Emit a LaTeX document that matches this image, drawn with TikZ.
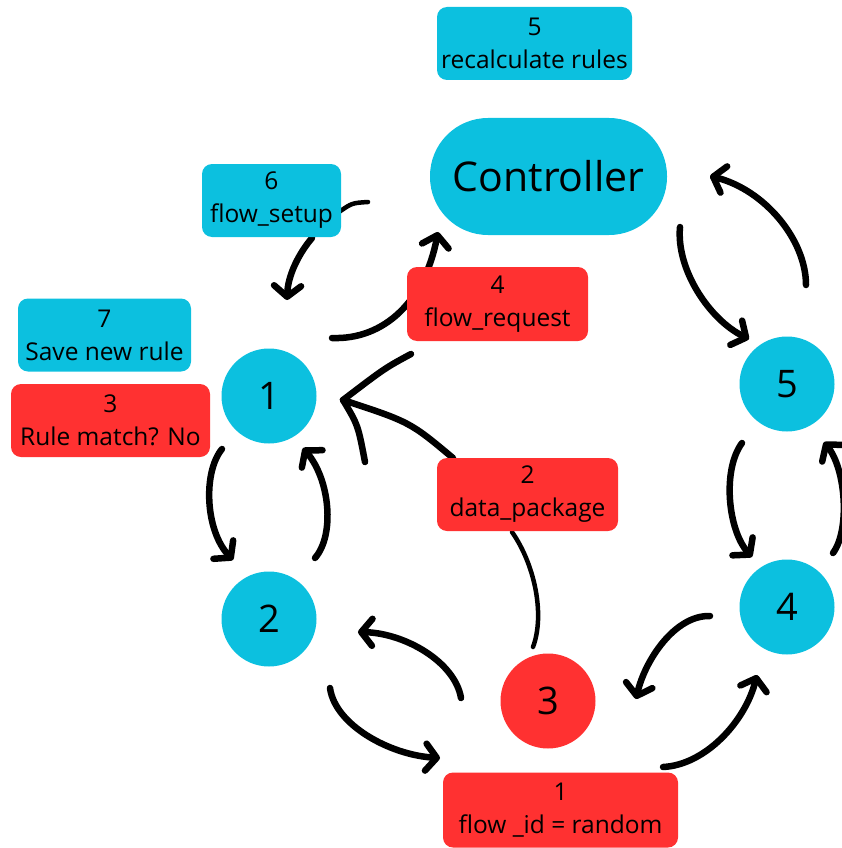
\documentclass[tikz,border=0pt]{standalone}
\usepackage{fontspec}
\setmainfont{Open Sans}
\usetikzlibrary{arrows.meta}
\definecolor{skyfill}{HTML}{0CC0DF}
\definecolor{redfill}{HTML}{FF3131}
\tikzset{
  box/.style={rounded corners=10pt, inner sep=0pt, align=center,
    font=\fontsize{24.5}{33}\selectfont},
  bluebox/.style={box, fill=skyfill},
  redbox/.style={box, fill=redfill},
  stepcircle/.style={circle, minimum size=95pt, inner sep=0pt,
    font=\fontsize{38}{40}\selectfont},
  flowarrow/.style={line width=6.5pt, line cap=round, line join=round,
    -{Straight Barb[length=11pt,width=27pt,round]}},
  flowline/.style={line width=6.5pt, line cap=round, line join=round},
  thinline/.style={line width=4.5pt, line cap=round},
}
\begin{document}
\begin{tikzpicture}[x=1pt,y=-1pt]
\useasboundingbox (0,0) rectangle (841,848);

% free ends of the connectors
\coordinate (s6)  at (368,202);
\coordinate (s6b) at (339,212);
\coordinate (a2s) at (312,238);  \coordinate (a2e) at (287,300);
\coordinate (a3s) at (332,338);  \coordinate (a3e) at (438,232);
\coordinate (tip) at (343,400);
\coordinate (bu)  at (411,354);  \coordinate (bl)  at (365,462);
\coordinate (bd)  at (453,458);
\coordinate (a5s) at (222,449);  \coordinate (a5e) at (233,560);
\coordinate (a6s) at (315,558);  \coordinate (a6e) at (303,448);
\coordinate (l7s) at (512,532);  \coordinate (l7e) at (533,647);
\coordinate (a8s) at (461,698);  \coordinate (a8e) at (358,632);
\coordinate (a9s) at (330,688);  \coordinate (a9e) at (440,758);
\coordinate (a10s) at (710,616); \coordinate (a10e) at (636,699);
\coordinate (a11s) at (663,767); \coordinate (a11e) at (757,675);
\coordinate (a12s) at (742,443); \coordinate (a12e) at (752,557);
\coordinate (a13s) at (833,553); \coordinate (a13e) at (824,442);
\coordinate (a14s) at (680,227); \coordinate (a14e) at (749,339);
\coordinate (a15s) at (806,285); \coordinate (a15e) at (710,176);

% connectors (drawn first so the boxes sit on top)
\draw[thinline] (s6) .. controls (352,203) .. (s6b);
\draw[flowarrow] (a2s) .. controls (300,252) and (288,274) .. (a2e);
\draw[flowarrow] (a3s) .. controls (385,340) and (425,300) .. (a3e);
\draw[flowline] (bu) .. controls (385,368) .. (tip);
\draw[flowline] (bd) .. controls (410,422) .. (tip);
\draw[flowline] (tip) .. controls (358,425) .. (bl);
\draw[flowarrow] (a5s) .. controls (203,472) and (205,530) .. (a5e);
\draw[flowarrow] (a6s) .. controls (335,535) and (330,480) .. (a6e);
\draw[thinline] (l7s) .. controls (535,565) and (545,615) .. (l7e);
\draw[flowarrow] (a8s) .. controls (455,662) and (405,633) .. (a8e);
\draw[flowarrow] (a9s) .. controls (335,725) and (390,755) .. (a9e);
\draw[flowarrow] (a10s) .. controls (675,615) and (645,660) .. (a10e);
\draw[flowarrow] (a11s) .. controls (705,765) and (745,722) .. (a11e);
\draw[flowarrow] (a12s) .. controls (722,470) and (728,530) .. (a12e);
\draw[flowarrow] (a13s) .. controls (850,530) and (846,470) .. (a13e);
\draw[flowarrow] (a14s) .. controls (676,270) and (710,320) .. (a14e);
\draw[flowarrow] (a15s) .. controls (806,240) and (765,190) .. (a15e);

% controller
\node[fill=skyfill, rounded corners=58pt, minimum width=237pt, minimum height=117pt,
      inner sep=0pt, font=\fontsize{41}{44}\selectfont] (ctrl) at (548.5,176.5) {Controller};

% labelled boxes
\node[bluebox, minimum width=195pt, minimum height=73pt] (recalc) at (534.5,43.5) {5\\recalculate rules};
\node[bluebox, minimum width=139pt, minimum height=73pt] (setup) at (271.5,200.5) {6\\flow\_setup};
\node[redbox, minimum width=181pt, minimum height=74pt] (request) at (497.5,304) {4\\flow\_request};
\node[bluebox, minimum width=173pt, minimum height=73pt] (save) at (104.5,335) {7\\Save new rule};
\node[redbox, minimum width=199pt, minimum height=73pt] (match) at (110.5,420.5) {3\\Rule match? No};
\node[redbox, minimum width=181pt, minimum height=73pt] (datapkg) at (527.5,494.5) {2\\data\_package};
\node[redbox, minimum width=235pt, minimum height=75pt] (flowid) at (560.5,810) {1\\flow \_id = random};

% switches
\node[stepcircle, fill=skyfill] (c1) at (269,396) {1};
\node[stepcircle, fill=skyfill] (c2) at (269,619) {2};
\node[stepcircle, fill=redfill] (c3) at (548,701) {3};
\node[stepcircle, fill=skyfill] (c4) at (787,607) {4};
\node[stepcircle, fill=skyfill] (c5) at (787,384) {5};
\end{tikzpicture}
\end{document}
